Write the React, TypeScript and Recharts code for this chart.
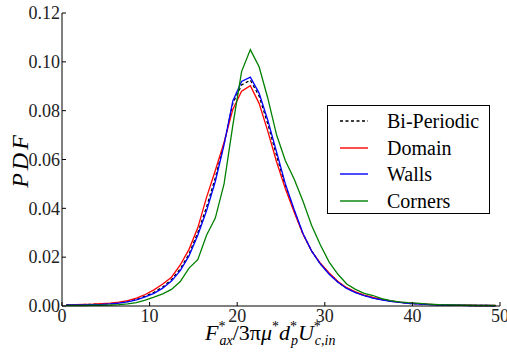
import React from "react"

import { Legend, Line, LineChart, XAxis, YAxis } from "recharts"

// bin centres of the force histogram
const bins = [
	0.5, 1.5, 2.5, 3.5, 4.5, 5.5, 6.5, 7.5, 8.5, 9.5,
	10.5, 11.5, 12.5, 13.5, 14.5, 15.5, 16.5, 17.5, 18.5, 19.5,
	20.5, 21.5, 22.5, 23.5, 24.5, 25.5, 26.5, 27.5, 28.5, 29.5,
	30.5, 31.5, 32.5, 33.5, 34.5, 35.5, 36.5, 37.5, 38.5, 39.5,
	40.5, 41.5, 42.5, 43.5, 44.5, 45.5, 46.5, 47.5, 48.5, 49.5
]

const biPeriodic = [
	0.0004, 0.0005, 0.0006, 0.0007, 0.0008, 0.001, 0.0013, 0.0019, 0.0027, 0.004,
	0.0056, 0.0078, 0.0108, 0.0152, 0.0213, 0.03, 0.0405, 0.0525, 0.0665, 0.083,
	0.0905, 0.0925, 0.086, 0.0745, 0.0615, 0.0492, 0.039, 0.0296, 0.0225, 0.0173,
	0.0132, 0.0098, 0.0073, 0.0056, 0.0043, 0.0033, 0.0026, 0.002, 0.0015, 0.0011,
	0.0009, 0.0007, 0.0005, 0.0004, 0.0003, 0.0003, 0.0002, 0.0002, 0.0002, 0.0001
]

const domainPdf = [
	0.0005, 0.0006, 0.0007, 0.0008, 0.001, 0.0012, 0.0016, 0.0022, 0.0032, 0.0047,
	0.0066, 0.009, 0.0118, 0.0168, 0.0232, 0.032, 0.0445, 0.0555, 0.067, 0.0805,
	0.088, 0.0902, 0.083, 0.0715, 0.059, 0.048, 0.0385, 0.0295, 0.0225, 0.0175,
	0.0135, 0.01, 0.0075, 0.0058, 0.0045, 0.0035, 0.0027, 0.0021, 0.0016, 0.0012,
	0.001, 0.0008, 0.0006, 0.0005, 0.0004, 0.0003, 0.0003, 0.0002, 0.0002, 0.0002
]

const walls = [
	0.0004, 0.0004, 0.0005, 0.0006, 0.0007, 0.0009, 0.0012, 0.0017, 0.0025, 0.0037,
	0.0052, 0.0073, 0.0102, 0.0145, 0.0205, 0.029, 0.039, 0.051, 0.066, 0.084,
	0.092, 0.0937, 0.0872, 0.076, 0.063, 0.05, 0.0395, 0.0298, 0.0225, 0.0172,
	0.013, 0.0097, 0.0072, 0.0055, 0.0042, 0.0032, 0.0025, 0.0019, 0.0015, 0.0011,
	0.0009, 0.0007, 0.0005, 0.0004, 0.0003, 0.0003, 0.0002, 0.0002, 0.0002, 0.0001
]

const corners = [
	0.0002, 0.0002, 0.0002, 0.0003, 0.0003, 0.0004, 0.0006, 0.0009, 0.0014, 0.0024,
	0.0036, 0.005, 0.0068, 0.01, 0.0155, 0.019, 0.029, 0.036, 0.05, 0.074,
	0.096, 0.105, 0.098, 0.085, 0.07, 0.0595, 0.052, 0.043, 0.033, 0.025,
	0.018, 0.013, 0.009, 0.0068, 0.0052, 0.0043, 0.003, 0.0022, 0.0017, 0.0014,
	0.0012, 0.0009, 0.0007, 0.0005, 0.0004, 0.0003, 0.0003, 0.0002, 0.0002, 0.0002
]

const xTicks = [0, 10, 20, 30, 40, 50]
const yTicks = [0, 0.02, 0.04, 0.06, 0.08, 0.1, 0.12]

const series = [
	{ key: "bi", name: "Bi-Periodic", color: "#000000", dash: "3 2.5" },
	{ key: "domain", name: "Domain", color: "#ff0000", dash: undefined },
	{ key: "walls", name: "Walls", color: "#0000ff", dash: undefined },
	{ key: "corners", name: "Corners", color: "#008000", dash: undefined }
]

const data = bins.map((x, i) => ({
	x,
	bi: biPeriodic[i],
	domain: domainPdf[i],
	walls: walls[i],
	corners: corners[i]
}))

const FONT = "Liberation Serif, DejaVu Serif, serif"
const TICK_LEN = 4
const PLOT_LEFT = 62
const PLOT_BOTTOM = 306
const PLOT_WIDTH = 438

// matplotlib-style ticks pointing into the frame
const BottomTick = (props: any) => {
	const { x, y, payload } = props
	return (
		<g>
			<line x1={x} x2={x} y1={PLOT_BOTTOM} y2={PLOT_BOTTOM - TICK_LEN} stroke="#000" />
			<text x={x} y={y} dy="0.35em" textAnchor="middle" style={{ fontFamily: FONT }} fontSize={18} fill="#222">
				{payload.value}
			</text>
		</g>
	)
}

const TopTick = (props: any) => {
	const { x, y } = props
	return <line x1={x} x2={x} y1={y} y2={y + TICK_LEN} stroke="#000" />
}

const LeftTick = (props: any) => {
	const { x, y, payload } = props
	return (
		<g>
			<line x1={PLOT_LEFT} x2={PLOT_LEFT + TICK_LEN} y1={y} y2={y} stroke="#000" />
			<text x={x} y={y} dy="0.35em" textAnchor="end" style={{ fontFamily: FONT }} fontSize={18} fill="#222">
				{Number(payload.value).toFixed(2)}
			</text>
		</g>
	)
}

const RightTick = (props: any) => {
	const { x, y } = props
	return <line x1={x} x2={x - TICK_LEN} y1={y} y2={y} stroke="#000" />
}

const XLabel = () => {
	const cx = PLOT_LEFT + PLOT_WIDTH / 2
	return (
		<text x={cx - 76} y={PLOT_BOTTOM + 34} style={{ fontFamily: FONT }} fontSize={22} fill="#000">
			<tspan fontStyle="italic">F</tspan>
			<tspan fontSize={14} dy={-9}>*</tspan>
			<tspan fontSize={14} fontStyle="italic" dx={-6} dy={14}>ax</tspan>
			<tspan dy={-5}>/3π</tspan>
			<tspan fontStyle="italic">μ</tspan>
			<tspan fontSize={14} dy={-9}>*</tspan>
			<tspan fontStyle="italic" dy={9}>d</tspan>
			<tspan fontSize={14} dy={-9}>*</tspan>
			<tspan fontSize={14} fontStyle="italic" dx={-6} dy={14}>p</tspan>
			<tspan fontStyle="italic" dy={-5}>U</tspan>
			<tspan fontSize={14} dy={-9}>*</tspan>
			<tspan fontSize={14} fontStyle="italic" dx={-6} dy={14}>c,in</tspan>
		</text>
	)
}

const YLabel = () => {
	const cy = 160
	return (
		<text
			x={20}
			y={cy}
			transform={`rotate(-90, 20, ${cy})`}
			textAnchor="middle"
			dominantBaseline="central"
			style={{ fontFamily: FONT }}
			fontStyle="italic"
			fontSize={24}
			letterSpacing={3}
			fill="#000"
		>
			PDF
		</text>
	)
}

const renderLegend = () => (
	<div
		style={{
			boxSizing: "border-box",
			width: 163,
			height: 109,
			border: "1px solid #000",
			background: "#fff",
			paddingTop: 2,
			fontFamily: FONT,
			fontSize: 20,
			color: "#000"
		}}
	>
		{series.map((s) => (
			<div key={s.key} style={{ display: "flex", alignItems: "center", height: 26.5 }}>
				<svg width={28} height={10} style={{ marginLeft: 12 }}>
					<line x1={0} x2={28} y1={5} y2={5} stroke={s.color} strokeWidth={1.4} strokeDasharray={s.dash} />
				</svg>
				<span style={{ marginLeft: 19, lineHeight: 1 }}>{s.name}</span>
			</div>
		))}
	</div>
)

export default function App() {
	return (
		<div style={{ position: "absolute", left: 0, top: 0, background: "#fff" }}>
			<LineChart width={507} height={356} data={data} margin={{ top: 13, right: 7, bottom: 0, left: 0 }}>
				<XAxis
					dataKey="x"
					type="number"
					domain={[0, 50]}
					ticks={xTicks}
					interval={0}
					height={50}
					tickSize={0}
					tickMargin={10}
					tickLine={false}
					tick={BottomTick}
					axisLine={{ stroke: "#000" }}
					label={<XLabel />}
				/>
				<XAxis
					xAxisId="top"
					orientation="top"
					dataKey="x"
					type="number"
					domain={[0, 50]}
					ticks={xTicks}
					interval={0}
					height={0}
					tickSize={0}
					tickMargin={0}
					tickLine={false}
					tick={TopTick}
					axisLine={{ stroke: "#000" }}
				/>
				<YAxis
					type="number"
					domain={[0, 0.12]}
					ticks={yTicks}
					interval={0}
					width={62}
					tickSize={0}
					tickMargin={2}
					tickLine={false}
					tick={LeftTick}
					axisLine={{ stroke: "#000" }}
					label={<YLabel />}
				/>
				<YAxis
					yAxisId="right"
					orientation="right"
					type="number"
					domain={[0, 0.12]}
					ticks={yTicks}
					interval={0}
					width={0}
					tickSize={0}
					tickMargin={0}
					tickLine={false}
					tick={RightTick}
					axisLine={{ stroke: "#000" }}
				/>
				<Legend
					layout="vertical"
					align="center"
					verticalAlign="middle"
					content={renderLegend}
					wrapperStyle={{ left: 327, top: 105, width: 163, height: 109 }}
				/>
				{series.map((s) => (
					<Line
						key={s.key}
						dataKey={s.key}
						name={s.name}
						type="linear"
						stroke={s.color}
						strokeWidth={1.3}
						strokeDasharray={s.dash}
						dot={false}
						isAnimationActive={false}
					/>
				))}
			</LineChart>
		</div>
	)
}
